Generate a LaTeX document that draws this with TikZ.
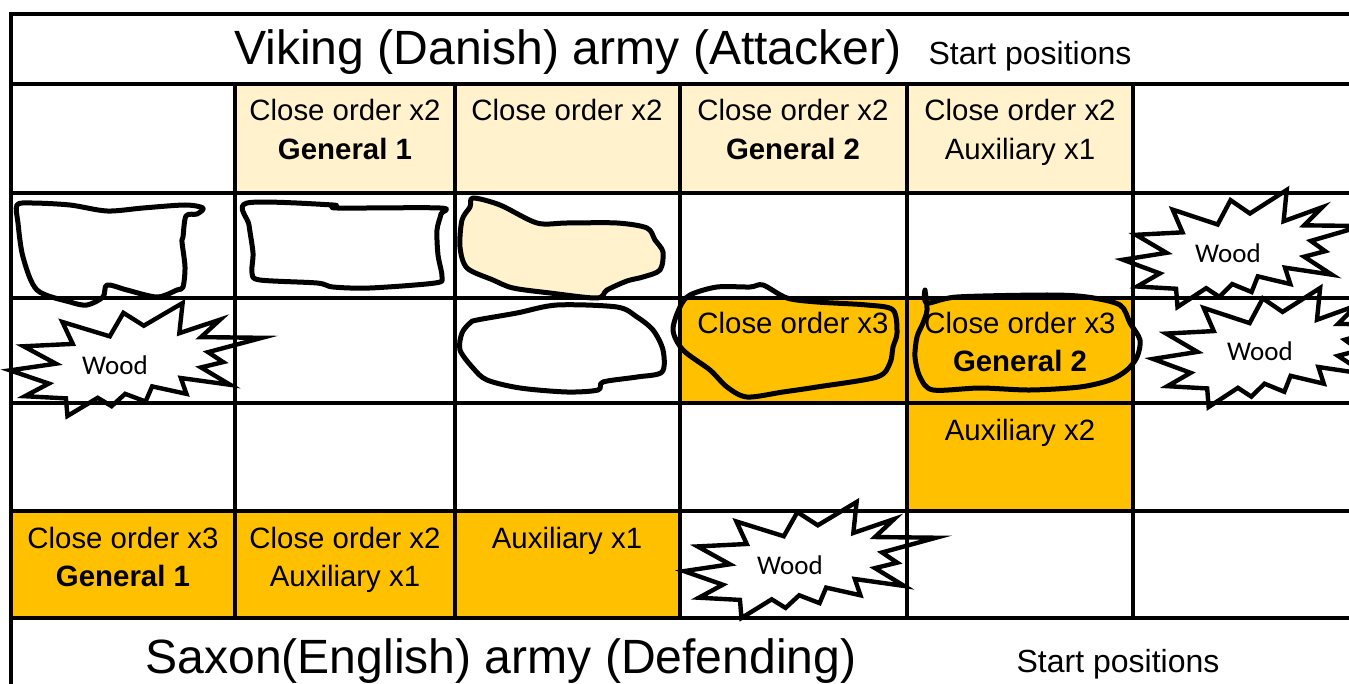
\documentclass[tikz,border=0pt]{standalone}
\usepackage{fontspec}
\setmainfont{Liberation Sans}
\newfontfamily\woodfont{Carlito}
\definecolor{paleyel}{HTML}{FFF2CC}
\definecolor{goldfill}{HTML}{FFC000}
\begin{document}
\begin{tikzpicture}[x=1pt,y=-1pt,
  gridline/.style={line width=4.5pt, line cap=rect},
  blob/.style={line width=5pt, line join=round, line cap=round},
  woodstar/.style={draw, fill=white, line width=4.4pt, line join=miter},
  celltxt/.style={font=\fontsize{29.4}{34}\selectfont, anchor=base, inner sep=0pt},
  cellbold/.style={font=\fontsize{29.4}{34}\selectfont\bfseries, anchor=base, inner sep=0pt},
  woodtxt/.style={font=\woodfont\fontsize{27}{32}\selectfont, inner sep=0pt},
  titletxt/.style={font=\fontsize{48.1}{56}\selectfont, anchor=base, inner sep=0pt},
  subtxt/.style={font=\fontsize{32}{37}\selectfont, anchor=base, inner sep=0pt},
  woodpic/.pic={\path[woodstar] (0.531,0.201) -- (0.685,0) -- (0.672,0.267) -- (0.834,0.147) -- (0.758,0.302) -- (1,0.308) -- (0.786,0.435) -- (0.846,0.523) -- (0.758,0.570) -- (0.874,0.724) -- (0.678,0.664) -- (0.700,0.804) -- (0.564,0.738) -- (0.538,0.872) -- (0.457,0.804) -- (0.403,0.913) -- (0.348,0.839) -- (0.228,1) -- (0.222,0.844) -- (0.059,0.825) -- (0.154,0.713) -- (0,0.596) -- (0.182,0.537) -- (0.054,0.383) -- (0.249,0.362) -- (0.208,0.168) -- (0.396,0.295) -- (0.450,0.087) -- cycle;}
]
\useasboundingbox (0,0) rectangle (1349,684);
\fill[white] (0,0) rectangle (1349,684);

% cell fills
\fill[paleyel] (235,84) rectangle (1133,193);
\fill[goldfill] (680,298) rectangle (1133,403);
\fill[goldfill] (907,403) rectangle (1133,511);
\fill[goldfill] (11,511) rectangle (680,618);

% hand-drawn blobs
\draw[blob] plot[smooth cycle, tension=0.5] coordinates {(17,205) (32,203) (70,205) (107,211) (143,208) (185,205) (203,208) (197,214) (186,216) (183,237) (182,242) (185,267) (183,287) (177,290) (157,297) (127,290) (107,285) (103,297) (87,305) (70,302) (37,290) (23,257) (18,223)};
\draw[blob] plot[smooth cycle, tension=0.5] coordinates {(247,203) (333,205) (337,208) (440,208) (441,214) (437,230) (438,255) (442,277) (435,283) (370,288) (333,287) (317,283) (260,280) (252,273) (253,253) (249,225)};
\draw[blob, fill=paleyel] plot[smooth cycle, tension=0.5] coordinates {(473,198) (500,205) (537,223) (567,223) (617,223) (647,228) (655,240) (663,252) (660,270) (643,277) (627,281) (607,290) (597,298) (550,293) (513,288) (493,280) (467,268) (460,247) (462,220) (470,207)};
\draw[blob] plot[smooth cycle, tension=0.5] coordinates {(477,320) (517,313) (557,305) (617,307) (637,317) (653,330) (663,350) (662,372) (637,377) (603,382) (598,390) (567,392) (520,388) (487,380) (473,368) (460,350) (462,333) (470,323)};
\draw[blob] plot[smooth cycle, tension=0.5] coordinates {(690,295) (717,287) (750,287) (763,285) (787,298) (817,302) (867,305) (893,310) (897,333) (893,347) (890,363) (877,377) (817,387) (783,392) (747,397) (727,387) (710,370) (683,350) (673,330) (680,307)};
\draw[blob] plot[smooth cycle, tension=0.5] coordinates {(925,290) (927,303) (957,297) (1047,295) (1087,297) (1120,305) (1130,323) (1140,340) (1137,357) (1127,370) (1110,380) (1080,387) (1030,390) (980,388) (933,390) (920,377) (915,357) (917,337) (923,323) (927,310)};

% wood starbursts
\pic[xscale=252, yscale=113] at (10,303) {woodpic};
\pic[xscale=239, yscale=117] at (1123,190) {woodpic};
\pic[xscale=244, yscale=119] at (1153,288) {woodpic};
\pic[xscale=252, yscale=116] at (684,502) {woodpic};

% grid
\draw[gridline] (11,14) -- (1349,14);
\foreach \yy in {84,193,298,403,511,618} \draw[gridline] (11,\yy) -- (1349,\yy);
\draw[gridline] (11,14) -- (11,684);
\foreach \xx in {235,455,680,907,1133} \draw[gridline] (\xx,84) -- (\xx,618);

% titles
\node[titletxt] (vtitle) at (568,65) {Viking (Danish) army (Attacker)};
\node[subtxt] (vstart) at (1030,65) {Start positions};
\node[titletxt] (stitle) at (501,673) {Saxon(English) army (Defending)};
\node[subtxt] (sstart) at (1118,672) {Start positions};

% row 1
\node[celltxt] (r1c2a) at (345,121) {Close order x2};
\node[cellbold] (r1c2b) at (345,160) {General 1};
\node[celltxt] (r1c3a) at (567,121) {Close order x2};
\node[celltxt] (r1c4a) at (793,121) {Close order x2};
\node[cellbold] (r1c4b) at (793,160) {General 2};
\node[celltxt] (r1c5a) at (1020,121) {Close order x2};
\node[celltxt] (r1c5b) at (1020,160) {Auxiliary x1};

% row 3
\node[celltxt] (r3c4a) at (793,334) {Close order x3};
\node[celltxt] (r3c5a) at (1020,334) {Close order x3};
\node[cellbold] (r3c5b) at (1020,372) {General 2};

% row 4
\node[celltxt] (r4c5a) at (1020,440) {Auxiliary x2};

% row 5
\node[celltxt] (r5c1a) at (123,548) {Close order x3};
\node[cellbold] (r5c1b) at (123,586) {General 1};
\node[celltxt] (r5c2a) at (345,548) {Close order x2};
\node[celltxt] (r5c2b) at (345,586) {Auxiliary x1};
\node[celltxt] (r5c3a) at (567,548) {Auxiliary x1};

% wood labels
\node[woodtxt] (wood1) at (115,365) {Wood};
\node[woodtxt] (wood2) at (1228,253) {Wood};
\node[woodtxt] (wood3) at (1260,351) {Wood};
\node[woodtxt] (wood4) at (790,565) {Wood};
\end{tikzpicture}
\end{document}
